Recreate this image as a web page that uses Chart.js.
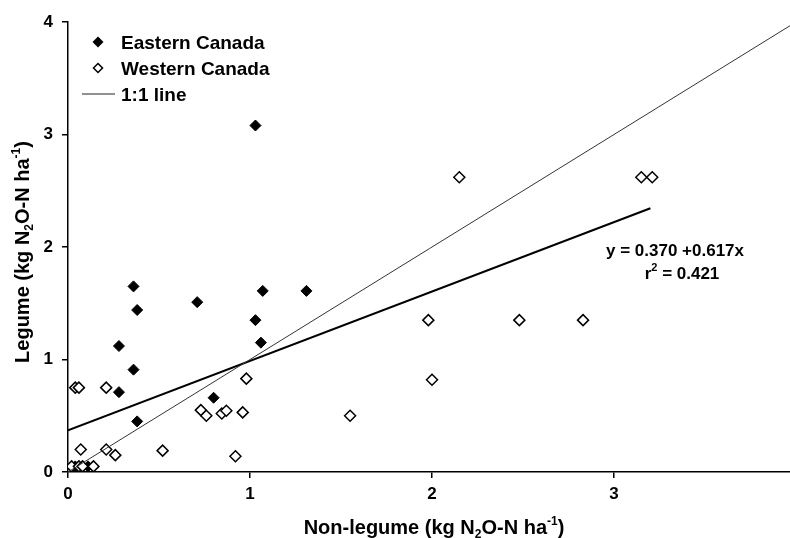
<!DOCTYPE html>
<html>
<head>
<meta charset="utf-8">
<script src="https://cdn.jsdelivr.net/npm/chart.js@4/dist/chart.umd.min.js"></script>
<style>
  html, body { margin: 0; padding: 0; background: #fff; }
  #chart { display: block; }
</style>
</head>
<body>
<canvas id="chart" width="790" height="538"></canvas>
<script>
// Eastern Canada (filled diamonds)
const eastX = [1.03, 0.36, 0.38, 0.71, 1.07, 1.31, 1.03, 1.06, 0.28, 0.36, 0.28, 0.80, 0.38, 0.04, 0.11];
const eastY = [3.08, 1.65, 1.44, 1.51, 1.61, 1.61, 1.35, 1.15, 1.12, 0.91, 0.71, 0.66, 0.45, 0.05, 0.05];

// Western Canada (open diamonds)
const westX = [0.04, 0.06, 0.21, 0.98, 0.73, 0.76, 0.845, 0.87, 0.96, 0.92, 1.55, 2.00, 1.98, 2.48, 2.83, 2.15, 3.15, 3.21,
               0.07, 0.21, 0.26, 0.52, 0.02, 0.06, 0.08, 0.14];
const westY = [0.75, 0.75, 0.75, 0.83, 0.55, 0.50, 0.52, 0.545, 0.53, 0.14, 0.50, 0.82, 1.35, 1.35, 1.35, 2.62, 2.62, 2.62,
               0.20, 0.20, 0.15, 0.19, 0.05, 0.05, 0.05, 0.05];

// lines
const oneToOneX = [0, 4];
const oneToOneY = [0, 4];
const fitX = [0, 3.2];
const fitY = [0.37, 2.344];

const xTicks = [0, 1, 2, 3];
const yTicks = [0, 1, 2, 3, 4];

const toPts = (xs, ys) => xs.map((x, i) => ({ x: x, y: ys[i] }));

const FONT = "'Liberation Sans', Arial, Helvetica, sans-serif";

// draw text with sub / superscript pieces
function richWidth(ctx, segs, size) {
  let w = 0;
  segs.forEach(s => {
    const sz = s.sub || s.sup ? Math.round(size * 0.62) : size;
    ctx.font = "bold " + sz + "px " + FONT;
    w += ctx.measureText(s.t).width;
  });
  return w;
}
function drawRich(ctx, segs, x, y, size) {
  let cx = x;
  segs.forEach(s => {
    const sz = s.sub || s.sup ? Math.round(size * 0.62) : size;
    ctx.font = "bold " + sz + "px " + FONT;
    let dy = 0;
    if (s.sub) dy = size * 0.22;
    if (s.sup) dy = -size * 0.45;
    ctx.fillText(s.t, cx, y + dy);
    cx += ctx.measureText(s.t).width;
  });
}

const yTitle = [{ t: "Legume (kg N" }, { t: "2", sub: true }, { t: "O-N ha" }, { t: "-1", sup: true }, { t: ")" }];
const xTitle = [{ t: "Non-legume (kg N" }, { t: "2", sub: true }, { t: "O-N ha" }, { t: "-1", sup: true }, { t: ")" }];
const eq1 = [{ t: "y = 0.370 +0.617x" }];
const eq2 = [{ t: "r" }, { t: "2", sup: true }, { t: " = 0.421" }];

const extras = {
  id: 'extras',
  afterDraw(chart) {
    const ctx = chart.ctx;
    ctx.save();
    ctx.fillStyle = '#000';
    ctx.textBaseline = 'alphabetic';
    ctx.textAlign = 'left';

    // axis titles
    let w = richWidth(ctx, xTitle, 20);
    drawRich(ctx, xTitle, 434 - w / 2, 534, 20);

    ctx.save();
    ctx.translate(29, 252);
    ctx.rotate(-Math.PI / 2);
    w = richWidth(ctx, yTitle, 20);
    drawRich(ctx, yTitle, -w / 2, 0, 20);
    ctx.restore();

    // regression equation
    w = richWidth(ctx, eq1, 17);
    drawRich(ctx, eq1, 675 - w / 2, 256, 17);
    w = richWidth(ctx, eq2, 17);
    drawRich(ctx, eq2, 682 - w / 2, 279, 17);

    // legend
    const items = [
      { label: 'Eastern Canada', type: 'filled' },
      { label: 'Western Canada', type: 'open' },
      { label: '1:1 line', type: 'line' }
    ];
    items.forEach((it, i) => {
      const cy = 42 + i * 26;
      if (it.type === 'line') {
        ctx.strokeStyle = '#222';
        ctx.lineWidth = 1;
        ctx.beginPath();
        ctx.moveTo(82, cy);
        ctx.lineTo(115, cy);
        ctx.stroke();
      } else {
        ctx.beginPath();
        const r = it.type === 'filled' ? 5.5 : 4.5;
        ctx.moveTo(98, cy - r);
        ctx.lineTo(98 + r, cy);
        ctx.lineTo(98, cy + r);
        ctx.lineTo(98 - r, cy);
        ctx.closePath();
        if (it.type === 'filled') {
          ctx.fillStyle = '#000';
          ctx.fill();
        } else {
          ctx.fillStyle = '#fff';
          ctx.fill();
          ctx.strokeStyle = '#000';
          ctx.lineWidth = 1.5;
          ctx.stroke();
        }
      }
      ctx.fillStyle = '#000';
      ctx.font = "bold 19px " + FONT;
      ctx.fillText(it.label, 121, cy + 7);
    });
    ctx.restore();
  }
};

const ctx = document.getElementById('chart').getContext('2d');
const chart = new Chart(ctx, {
  type: 'scatter',
  data: {
    datasets: [
      {
        label: '1:1 line',
        type: 'line',
        data: toPts(oneToOneX, oneToOneY),
        borderColor: '#333',
        borderWidth: 1,
        pointRadius: 0,
        fill: false
      },
      {
        label: 'Regression',
        type: 'line',
        data: toPts(fitX, fitY),
        borderColor: '#000',
        borderWidth: 2,
        pointRadius: 0,
        fill: false
      },
      {
        label: 'Western Canada',
        data: toPts(westX, westY),
        pointStyle: 'rectRot',
        pointRadius: 5.5,
        pointBackgroundColor: '#fff',
        pointBorderColor: '#000',
        pointBorderWidth: 1.5
      },
      {
        label: 'Eastern Canada',
        data: toPts(eastX, eastY),
        pointStyle: 'rectRot',
        pointRadius: 5.5,
        pointBackgroundColor: '#000',
        pointBorderColor: '#000',
        pointBorderWidth: 1
      }
    ]
  },
  options: {
    responsive: false,
    animation: false,
    devicePixelRatio: 1,
    layout: { autoPadding: false, padding: { top: 22, right: 0, left: 0, bottom: 0 } },
    plugins: {
      legend: { display: false },
      tooltip: { enabled: false },
      title: { display: false }
    },
    scales: {
      x: {
        type: 'linear',
        min: 0,
        max: 3.967,
        afterFit: s => { s.height = 66; s.paddingLeft = 0; s.paddingRight = 0; },
        afterBuildTicks: s => { s.ticks = xTicks.map(v => ({ value: v })); },
        ticks: {
          color: '#000',
          font: { family: FONT, size: 17, weight: 'bold' },
          padding: 6,
          callback: v => String(v)
        },
        grid: { drawOnChartArea: false, drawTicks: true, tickLength: 6, color: '#000', lineWidth: 1.5 },
        border: { display: true, color: '#000', width: 1.5 }
      },
      y: {
        min: 0,
        max: 4,
        afterFit: s => { s.width = 68; },
        afterBuildTicks: s => { s.ticks = yTicks.map(v => ({ value: v })); },
        ticks: {
          color: '#000',
          font: { family: FONT, size: 17, weight: 'bold' },
          padding: 9,
          callback: v => String(v)
        },
        grid: { drawOnChartArea: false, drawTicks: true, tickLength: 6, color: '#000', lineWidth: 1.5 },
        border: { display: true, color: '#000', width: 1.5 }
      }
    }
  },
  plugins: [extras]
});
</script>
</body>
</html>
